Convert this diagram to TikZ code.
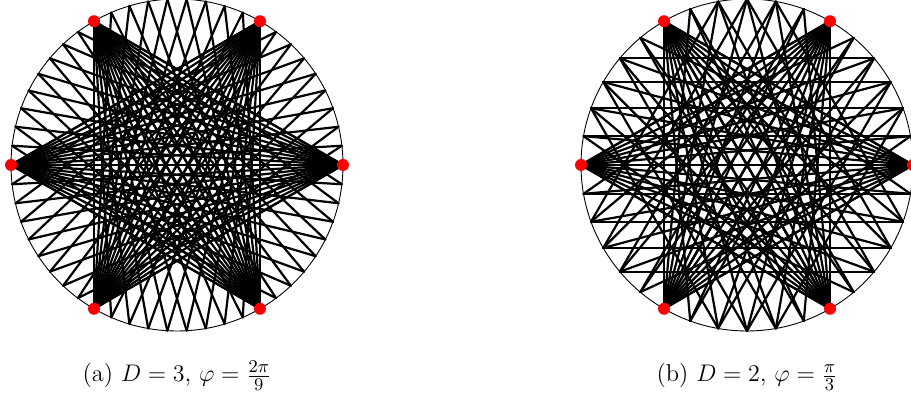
\documentclass[tikz,border=0pt]{standalone}
\usepackage{amsmath}
\begin{document}
\begin{tikzpicture}[x=0.5pt,y=-0.5pt,
  chord/.style={line width=1.1pt, line cap=round},
  rim/.style={line width=0.45pt},
  vdot/.style={circle, fill=red, inner sep=0pt, minimum size=6pt},
  capt/.style={anchor=base, font=\fontsize{12.2pt}{14pt}\selectfont}]
\useasboundingbox (0,0) rectangle (911,399);
\def\R{166}
% ---------- left figure ----------
\coordinate (LC) at (177,165);
\foreach \j in {0,...,53} {
  \coordinate (L\j) at ({177+\R*cos(\j*20/3)},{165-\R*sin(\j*20/3)});
}
\foreach \v in {0,9,...,45} {
  \foreach \d in {18,...,36} {
    \pgfmathtruncatemacro\w{mod(\v+\d,54)}
    \draw[chord] (L\v) -- (L\w);
  }
}
\draw[rim] (LC) circle [radius=83pt];
\foreach \v in {0,9,...,45} { \node[vdot] (LV\v) at (L\v) {}; }
\node[capt] (capA) at (177,382) {(a)~$D=3$, $\varphi=\frac{2\pi}{9}$};
% ---------- right figure ----------
\coordinate (RC) at (747,165);
\foreach \j in {0,...,35} {
  \coordinate (R\j) at ({747+\R*cos(\j*10)},{165-\R*sin(\j*10)});
}
\foreach \v in {0,6,...,30} {
  \foreach \d in {12,...,24} {
    \pgfmathtruncatemacro\w{mod(\v+\d,36)}
    \draw[chord] (R\v) -- (R\w);
  }
}
\foreach \c in {6,18,30} {
  \foreach \j in {0,...,35} {
    \pgfmathtruncatemacro\w{mod(\c-\j+72,36)}
    \pgfmathtruncatemacro\dd{min(abs(\w-\j),36-abs(\w-\j))}
    \ifnum\w>\j
      \ifnum\dd>9
        \draw[chord] (R\j) -- (R\w);
      \fi
    \fi
  }
}
\draw[rim] (RC) circle [radius=83pt];
\foreach \v in {0,6,...,30} { \node[vdot] (RV\v) at (R\v) {}; }
\node[capt] (capB) at (747,382) {(b)~$D=2$, $\varphi=\frac{\pi}{3}$};
\end{tikzpicture}
\end{document}
